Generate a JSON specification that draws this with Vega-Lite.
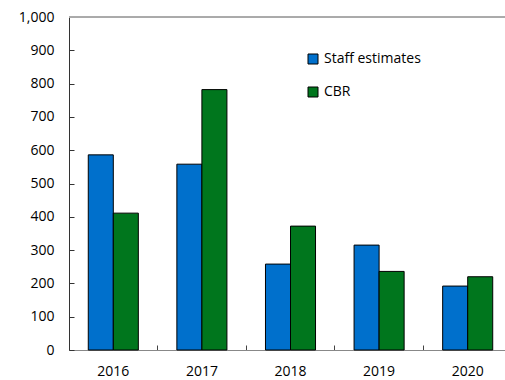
{
  "$schema": "https://vega.github.io/schema/vega-lite/v6.json",
  "width": 436,
  "height": 333,
  "autosize": "none",
  "padding": {"left": 69, "top": 17, "right": 0, "bottom": 30},
  "background": "white",
  "config": {
    "view": {"stroke": null},
    "font": "Open Sans",
    "axis": {"labelFont": "Open Sans", "labelFontSize": 14, "labelColor": "#000", "grid": false}
  },
  "data": {
    "values": [
      {"year": "2016", "series": "Staff estimates", "value": 586},
      {"year": "2016", "series": "CBR", "value": 411},
      {"year": "2017", "series": "Staff estimates", "value": 558},
      {"year": "2017", "series": "CBR", "value": 782},
      {"year": "2018", "series": "Staff estimates", "value": 258},
      {"year": "2018", "series": "CBR", "value": 372},
      {"year": "2019", "series": "Staff estimates", "value": 315},
      {"year": "2019", "series": "CBR", "value": 236},
      {"year": "2020", "series": "Staff estimates", "value": 192},
      {"year": "2020", "series": "CBR", "value": 220}
    ]
  },
  "resolve": {"axis": {"x": "independent", "y": "independent"}},
  "layer": [
    {
      "mark": {"type": "rule", "color": "#aaaaaa", "strokeWidth": 1},
      "encoding": {"y": {"datum": 1000, "type": "quantitative", "scale": {"domain": [0, 1000], "nice": false}, "axis": null}}
    },
    {
      "mark": {"type": "bar", "opacity": 0},
      "encoding": {
        "x": {
          "field": "year", "type": "nominal",
          "scale": {"paddingInner": 0, "paddingOuter": 0, "range": [0, 443]},
          "axis": {"title": null, "orient": "top", "offset": -333, "labels": false, "domain": false, "bandPosition": 0, "ticks": true, "tickSize": 5, "tickWidth": 1, "tickColor": "#444"}
        },
        "y": {
          "field": "value", "type": "quantitative",
          "scale": {"domain": [0, 1000], "nice": false},
          "axis": {"title": null, "orient": "right", "offset": -436, "labels": false, "domain": false, "values": [0,100,200,300,400,500,600,700,800,900,1000], "ticks": true, "tickSize": 5, "tickWidth": 1, "tickColor": "#333"}
        }
      }
    },
    {
      "mark": {"type": "bar", "stroke": "#000", "strokeWidth": 1},
      "encoding": {
        "x": {
          "field": "year", "type": "nominal",
          "scale": {"paddingInner": 0, "paddingOuter": 0, "range": [0, 443]},
          "axis": {"title": null, "labelAngle": 0, "ticks": false, "domainColor": "#888", "labelPadding": 14}
        },
        "xOffset": {"field": "series", "type": "nominal", "sort": ["Staff estimates", "CBR"], "scale": {"paddingInner": 0, "paddingOuter": 0.77}},
        "y": {
          "field": "value", "type": "quantitative",
          "scale": {"domain": [0, 1000], "nice": false},
          "axis": {"title": null, "values": [0,100,200,300,400,500,600,700,800,900,1000], "labelOverlap": false, "format": ",d", "ticks": false, "domainColor": "#333", "labelPadding": 15}
        },
        "color": {
          "field": "series", "type": "nominal",
          "scale": {"domain": ["Staff estimates", "CBR"], "range": ["#0070CC", "#00761D"]},
          "legend": {
            "title": null, "orient": "none", "legendX": 237, "legendY": 35,
            "symbolType": "square", "symbolSize": 100, "symbolStrokeColor": "#000", "symbolStrokeWidth": 1,
            "labelFontSize": 14, "labelFont": "Open Sans", "labelColor": "#000", "rowPadding": 19, "labelOffset": 4
          }
        }
      }
    }
  ]
}
